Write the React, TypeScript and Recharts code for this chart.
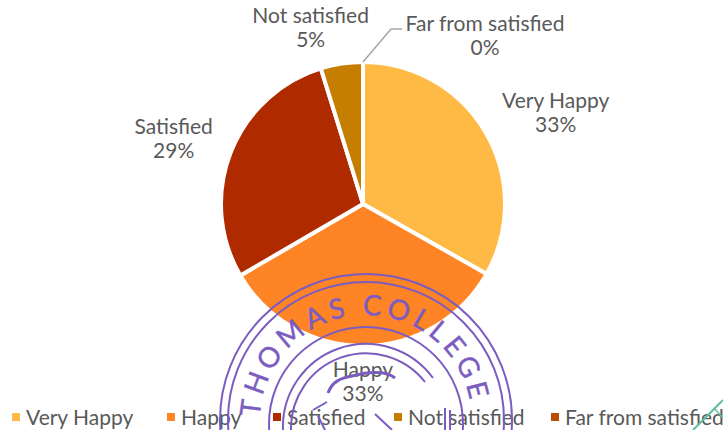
import { PieChart, Pie, Cell, Legend } from "recharts";

const categories = ["Very Happy", "Happy", "Satisfied", "Not satisfied", "Far from satisfied"];
const shares = [33.2, 33.4, 28.6, 4.8, 0];
const percentLabels = ["33%", "33%", "29%", "5%", "0%"];
const colors = ["#FFBA45", "#FF8426", "#B02A00", "#C67E00", "#B85000"];

// label centre, relative to the point on the rim at the slice's middle angle
const labelShiftX = [70, -1, -57, -31, 122];
const labelShiftY = [-19, 36, -14, -36, -26];
// left edge of each legend swatch
const legendX = [12, 167, 273, 394, 551];

const data = categories.map((name, i) => ({ name, value: shares[i] }));

const FONT = "Lato, sans-serif";
const TEXT = "#595959";
const STAMP = "#7B5CC0";

const renderLabel = (props: any) => {
  const { cx, cy, midAngle, outerRadius, index } = props;
  const rad = (midAngle * Math.PI) / 180;
  const rimX = cx + outerRadius * Math.cos(rad);
  const rimY = cy - outerRadius * Math.sin(rad);
  const x = rimX + labelShiftX[index];
  const y = rimY + labelShiftY[index];
  return (
    <g key={index}>
      {index === 4 && (
        <polyline
          points={`${rimX},${rimY} ${rimX + 28},${rimY - 33} ${rimX + 39},${rimY - 33}`}
          fill="none"
          stroke="#A6A6A6"
          strokeWidth={1.5}
        />
      )}
      <text x={x} y={y - 5} textAnchor="middle" fontSize={21} fontFamily={FONT} fill={TEXT}>
        {categories[index]}
      </text>
      <text x={x} y={y + 19} textAnchor="middle" fontSize={21} fontFamily={FONT} fill={TEXT}>
        {percentLabels[index]}
      </text>
    </g>
  );
};

const LegendRow = () => (
  <div style={{ position: "relative", height: 26, whiteSpace: "nowrap", fontFamily: FONT, fontSize: 21, color: TEXT }}>
    {categories.map((name, i) => (
      <span key={name} style={{ position: "absolute", left: legendX[i], top: 0, display: "flex", alignItems: "center" }}>
        <span style={{ width: 8, height: 8, background: colors[i], marginRight: 6 }} />
        {name}
      </span>
    ))}
  </div>
);

// the college seal stamped over the page
const Stamp = () => (
  <svg width={723} height={430} style={{ position: "absolute", left: 0, top: 0, pointerEvents: "none" }}>
    <g fill="none" stroke={STAMP} strokeWidth={2}>
      <circle cx={366} cy={420} r={146} />
      <circle cx={366} cy={420} r={138} />
      <circle cx={366} cy={424} r={97} />
      <path d="M283 430 A 83 83 0 0 1 433 378" />
      <path d="M291 430 A 75 75 0 0 1 425 382" />
      <path d="M328 393 C 332 382 340 378 352 376 C 368 372 385 370 395 378" strokeWidth={3} />
      <path d="M313 410 L 327 402 M318 416 L 325 430 M375 414 L 392 430 M445 408 L 445 430 M450 410 L 450 430" />
    </g>
    <defs>
      <path id="stampArc" d="M 260 421 A 106 106 0 0 1 472 421" />
    </defs>
    <g transform="rotate(-3.5 366 421)">
      <text fontFamily={FONT} fontSize={28} fill={STAMP} stroke={STAMP} strokeWidth={0.4} letterSpacing={4.5} textAnchor="middle">
        <textPath href="#stampArc" startOffset="50%">THOMAS COLLEGE</textPath>
      </text>
    </g>
    <path d="M693 430 L723 400" fill="none" stroke="#5DBFA0" strokeWidth={2} />
    <path d="M714 408 L723 418" fill="none" stroke="#5DBFA0" strokeWidth={1.5} />
  </svg>
);

export default function App() {
  return (
    <div style={{ position: "absolute", left: 0, top: 0, width: 723, height: 430, overflow: "hidden", background: "#fff" }}>
      <PieChart width={723} height={430} margin={{ top: 0, right: 0, bottom: 0, left: 0 }}>
        <Pie
          data={data}
          dataKey="value"
          nameKey="name"
          cx={363}
          cy={204}
          outerRadius={142}
          startAngle={90}
          endAngle={-270}
          stroke="#fff"
          strokeWidth={4}
          label={renderLabel}
          labelLine={false}
          isAnimationActive={false}
        >
          {data.map((d, i) => (
            <Cell key={d.name} fill={colors[i]} />
          ))}
        </Pie>
        <Legend content={<LegendRow />} wrapperStyle={{ position: "absolute", left: 0, top: 404, width: 723 }} />
      </PieChart>
      <Stamp />
    </div>
  );
}
